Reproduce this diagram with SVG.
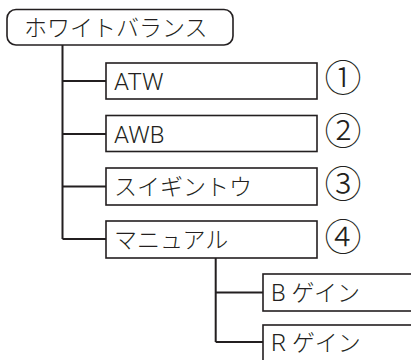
<svg xmlns="http://www.w3.org/2000/svg" width="411" height="360" viewBox="0 0 411 360">
<style>
.box{fill:#fff;stroke:#231f20;stroke-width:1.6}
.ln{fill:none;stroke:#231f20;stroke-width:2}
.t{font-family:"Noto Sans CJK JP",sans-serif;font-size:23px;font-weight:300;fill:#231f20}
text.l,tspan.l{font-family:Roboto,"Liberation Sans",sans-serif;font-weight:300;font-size:24px}
.n{font-family:"Noto Sans CJK JP",sans-serif;font-size:37px;font-weight:300;fill:#231f20;text-anchor:middle}
</style>
<rect width="411" height="360" fill="#fff"/>
<g id="connectors">
<path class="ln" d="M62.5,45V239M62.5,81H106M62.5,134H106M62.5,186.5H106M62.5,239H106"/>
<path class="ln" d="M215.7,258V342M215.7,292.5H263M215.7,342H263"/>
</g>
<g id="root"><rect class="box" x="7" y="9.5" width="226" height="35.5" rx="9"/><text class="t" x="24" y="36">ホワイトバランス</text></g>
<g id="atw"><rect class="box" x="106" y="63" width="211" height="36"/><text class="t l" x="114" y="90">ATW</text></g>
<g id="awb"><rect class="box" x="106" y="115.5" width="211" height="36"/><text class="t l" x="114" y="143">AWB</text></g>
<g id="sui"><rect class="box" x="106" y="168" width="211" height="37"/><text class="t" x="114" y="195">スイギントウ</text></g>
<g id="man"><rect class="box" x="106" y="221" width="211" height="37"/><text class="t" x="114" y="248">マニュアル</text></g>
<g id="n1"><text class="n" x="343" y="92">①</text></g>
<g id="n2"><text class="n" x="343" y="145">②</text></g>
<g id="n3"><text class="n" x="343" y="198">③</text></g>
<g id="n4"><text class="n" x="343" y="251">④</text></g>
<g id="bg"><rect class="box" x="263" y="274" width="160" height="37"/><text class="t" x="271" y="301"><tspan class="l">B </tspan>ゲイン</text></g>
<g id="rg"><rect class="box" x="263" y="325" width="160" height="40"/><text class="t" x="271" y="351"><tspan class="l">R </tspan>ゲイン</text></g>
</svg>
